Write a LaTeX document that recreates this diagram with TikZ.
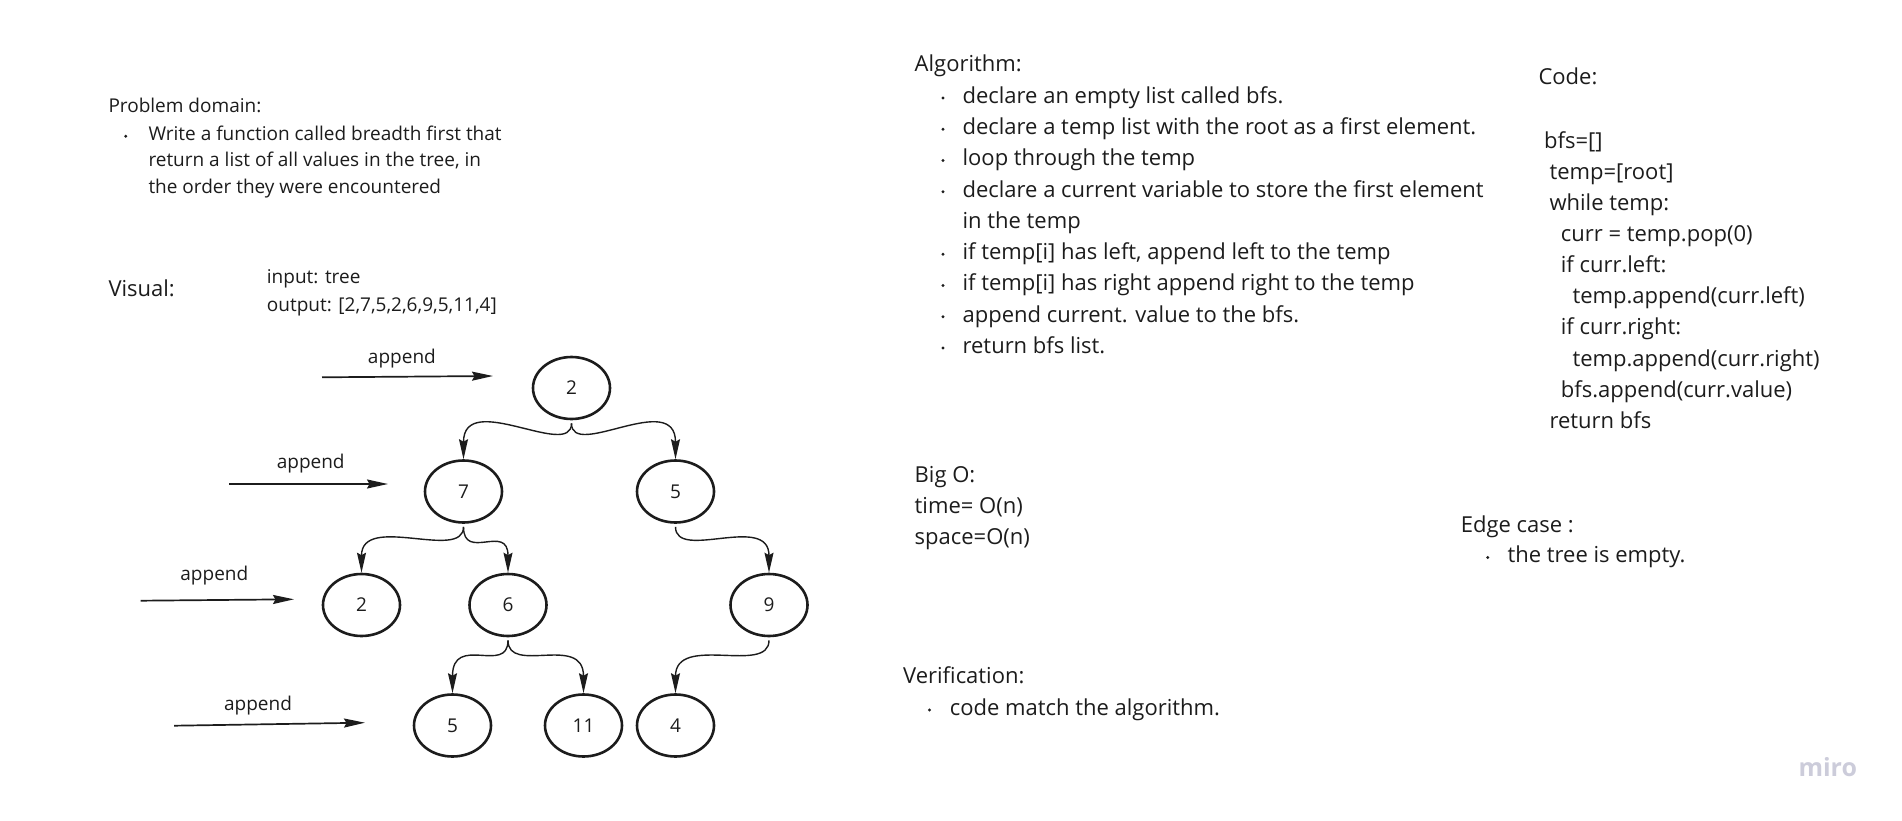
\documentclass[tikz,border=0pt]{standalone}
\usepackage{fontspec}
\setmainfont{Open Sans}
\usetikzlibrary{shapes.geometric,arrows.meta}
\definecolor{ink}{RGB}{28,28,28}
\definecolor{mirogray}{RGB}{204,204,218}
\tikzset{
  bigtxt/.style={font=\fontsize{22}{30}\selectfont, anchor=base west, inner sep=0pt, text=ink},
  smalltxt/.style={font=\fontsize{19}{26}\selectfont, anchor=base west, inner sep=0pt, text=ink},
  lbl/.style={font=\fontsize{19}{26}\selectfont, anchor=base, inner sep=0pt, text=ink},
  treenode/.style={ellipse, draw=ink, line width=2.6pt, minimum width=77pt, minimum height=62pt, inner sep=0pt, text=ink, font=\fontsize{19}{26}\selectfont},
  edge/.style={draw=ink, line width=1.4pt, -{Stealth[length=20pt,width=9pt,inset=2.5pt]}, shorten <=3pt},
  appendarrow/.style={draw=ink, line width=1.7pt, -{Stealth[length=21pt,width=9pt,inset=2.5pt]}},
  bulletdot/.style={fill=ink}
}
\begin{document}
\begin{tikzpicture}[x=1pt,y=-1pt]
\useasboundingbox (0,0) rectangle (1902,821);

% Problem domain
\node[smalltxt] (pd) at (108.3,112.3) {Problem domain:};
\fill[bulletdot] (125.7,136.2) circle (1.6);
\node[smalltxt] (pd1) at (148.3,140.7) {Write a function called breadth first that};
\node[smalltxt] (pd2) at (148.3,167.0) {return a list of all values in the tree, in};
\node[smalltxt] (pd3) at (148.3,193.3) {the order they were encountered};

% Visual
\node[bigtxt] (vis) at (108.3,296.7) {Visual:};
\node[smalltxt] (inp) at (266.7,283.3) {input: tree};
\node[smalltxt] (outp) at (266.7,311.0) {output: [2,7,5,2,6,9,5,11,4]};

% Tree
\node[treenode] (n1) at (571.5,388) {2};
\node[treenode] (n2) at (463.5,491.5) {7};
\node[treenode] (n3) at (675.5,491.5) {5};
\node[treenode] (n4) at (361.5,605) {2};
\node[treenode] (n5) at (508,605) {6};
\node[treenode] (n6) at (769,605) {9};
\node[treenode] (n7) at (452.5,725.5) {5};
\node[treenode] (n8) at (583.5,725.5) {11};
\node[treenode] (n9) at (675.5,725.5) {4};

\draw[edge] (n1.south) .. controls +(0,40) and +(0,-70) .. (n2.north);
\draw[edge] (n1.south) .. controls +(0,40) and +(0,-70) .. (n3.north);
\draw[edge] (n2.south) .. controls +(0,38) and +(0,-60) .. (n4.north);
\draw[edge] (n2.south) .. controls +(0,38) and +(0,-50) .. (n5.north);
\draw[edge] (n3.south) .. controls +(0,38) and +(0,-60) .. (n6.north);
\draw[edge] (n5.south) .. controls +(0,38) and +(0,-60) .. (n7.north);
\draw[edge] (n5.south) .. controls +(0,38) and +(0,-60) .. (n8.north);
\draw[edge] (n6.south) .. controls +(0,38) and +(0,-60) .. (n9.north);

% append arrows
\coordinate (a1s) at (322,377.3);  \coordinate (a1e) at (493,376);
\coordinate (a2s) at (229.2,484);  \coordinate (a2e) at (388,484);
\coordinate (a3s) at (140.7,600.7); \coordinate (a3e) at (294,599.3);
\coordinate (a4s) at (174.2,725.7); \coordinate (a4e) at (365,722.7);
\draw[appendarrow] (a1s) -- (a1e);
\draw[appendarrow] (a2s) -- (a2e);
\draw[appendarrow] (a3s) -- (a3e);
\draw[appendarrow] (a4s) -- (a4e);
\node[lbl] (l1) at (401.9,363.3) {append};
\node[lbl] (l2) at (310.7,468.3) {append};
\node[lbl] (l3) at (214.3,580.7) {append};
\node[lbl] (l4) at (258,710) {append};

% Algorithm
\node[bigtxt] (alg) at (914.5,71.7) {Algorithm:};
\foreach \k/\t/\b in {0/{declare an empty list called bfs.}/1,
                      1/{declare a temp list with the root as a first element.}/1,
                      2/{loop through the temp}/1,
                      3/{declare a current variable to store the first element}/1,
                      4/{in the temp}/0,
                      5/{if temp[i] has left, append left to the temp}/1,
                      6/{if temp[i] has right append right to the temp}/1,
                      7/{append current. value to the bfs.}/1,
                      8/{return bfs list.}/1}{
  \node[bigtxt] (alg-\k) at (962.4,103.3+31.25*\k) {\t};
  \ifnum\b=1 \fill[bulletdot] (943,98.0+31.25*\k) circle (1.7); \fi
}

% Code
\node[bigtxt] (code) at (1538.3,85) {Code:};
\foreach \k/\x/\t in {0/1544/{bfs=[]},
                      1/1549.3/{temp=[root]},
                      2/1549.3/{while temp:},
                      3/1560.7/{curr = temp.pop(0)},
                      4/1560.7/{if curr.left:},
                      5/1572.3/{temp.append(curr.left)},
                      6/1560.7/{if curr.right:},
                      7/1572.3/{temp.append(curr.right)},
                      8/1560.7/{bfs.append(curr.value)},
                      9/1549.3/{return bfs}}{
  \node[bigtxt] (code-\k) at (\x,148.3+31.1*\k) {\t};
}

% Big O
\node[bigtxt] (bigo) at (914.5,482) {Big O:};
\node[bigtxt] (bigo1) at (914.5,513) {time= O(n)};
\node[bigtxt] (bigo2) at (914.5,544) {space=O(n)};

% Verification
\node[bigtxt] (ver) at (903,683.3) {Verification:};
\fill[bulletdot] (929.5,710) circle (1.7);
\node[bigtxt] (ver1) at (949.7,715) {code match the algorithm.};

% Edge case
\node[bigtxt] (edge) at (1460.7,532.3) {Edge case :};
\fill[bulletdot] (1487.7,557.5) circle (1.7);
\node[bigtxt] (edge1) at (1507.3,562.7) {the tree is empty.};

% logo
\node[anchor=base west, inner sep=0pt, text=mirogray, font=\fontsize{25}{30}\selectfont\bfseries] (miro) at (1798.3,776) {miro};
\end{tikzpicture}
\end{document}
